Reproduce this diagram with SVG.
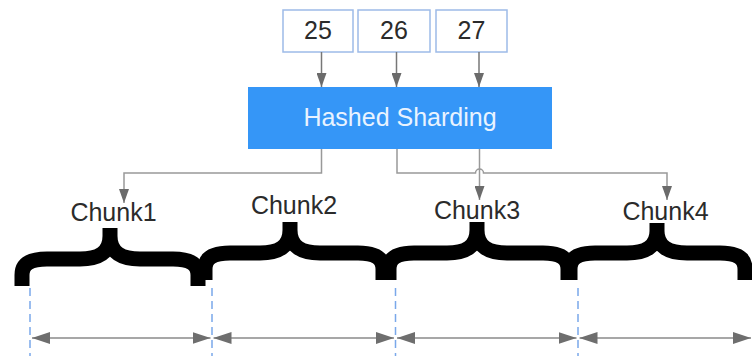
<svg xmlns="http://www.w3.org/2000/svg" width="752" height="356" viewBox="0 0 752 356">
  <defs>
    <marker id="arrow" markerUnits="userSpaceOnUse" markerWidth="14" markerHeight="10" refX="14" refY="5" orient="auto">
      <path d="M0,0 L14,5 L0,10 Z" fill="#6b6b6b"/>
    </marker>
    <marker id="span-end" markerUnits="userSpaceOnUse" markerWidth="18" markerHeight="12" refX="18" refY="6" orient="auto">
      <path d="M0,0 L18,6 L0,12 Z" fill="#6e6e6e"/>
    </marker>
    <marker id="span-start" markerUnits="userSpaceOnUse" markerWidth="18" markerHeight="12" refX="0" refY="6" orient="auto">
      <path d="M18,0 L0,6 L18,12 Z" fill="#6e6e6e"/>
    </marker>
    <style>
      text { font-family: "Liberation Sans", Arial, sans-serif; font-size: 25px; text-anchor: middle; }
      .key rect { fill: #ffffff; stroke: #9dbbe8; stroke-width: 1.5; }
      .key text { fill: #2b2b2b; }
      .hash rect { fill: #3596f7; }
      .hash text { fill: #e9f3ff; }
      .chunk text { fill: #2b2b2b; }
      .brace { fill: none; stroke: #000000; stroke-width: 15; stroke-linecap: butt; stroke-linejoin: round; }
      .feed { fill: none; stroke: #777777; stroke-width: 1.5; marker-end: url(#arrow); }
      .route { fill: none; stroke: #999999; stroke-width: 1.5; marker-end: url(#arrow); }
      .bound { fill: none; stroke: #7aa8ea; stroke-width: 1.5; stroke-dasharray: 8 5; }
      .span { fill: none; stroke: #8a8a8a; stroke-width: 1.5; marker-start: url(#span-start); marker-end: url(#span-end); }
    </style>
  </defs>

  <!-- shard keys -->
  <g id="key-25" class="key">
    <rect x="283" y="10" width="70" height="42"/>
    <text x="318" y="39">25</text>
  </g>
  <g id="key-26" class="key">
    <rect x="358" y="10" width="72" height="42"/>
    <text x="394" y="39">26</text>
  </g>
  <g id="key-27" class="key">
    <rect x="436" y="10" width="71" height="42"/>
    <text x="471.5" y="39">27</text>
  </g>

  <!-- hash function -->
  <g id="hashed-sharding" class="hash">
    <rect x="248" y="87" width="304" height="62"/>
    <text x="400" y="126">Hashed Sharding</text>
  </g>

  <!-- chunks: label plus brace -->
  <g id="chunk1" class="chunk">
    <text x="113.5" y="221">Chunk1</text>
    <path class="brace" d="M110,228 V236 C110,253 98,259 80,259 H47 C30,259 22,264 22,275 V286 M110,228 V236 C110,253 122,259 140,259 H173 C190,259 198,264 198,275 V286"/>
  </g>
  <g id="chunk2" class="chunk">
    <text x="294" y="214">Chunk2</text>
    <path class="brace" d="M290,222 V230 C290,247 278,253 260,253 H230 C213,253 205,258 205,269 V280 M290,222 V230 C290,247 302,253 320,253 H358 C375,253 383,258 383,269 V280"/>
  </g>
  <g id="chunk3" class="chunk">
    <text x="477" y="219">Chunk3</text>
    <path class="brace" d="M477,222 V230 C477,247 465,253 447,253 H414 C397,253 389,258 389,269 V280 M477,222 V230 C477,247 489,253 507,253 H543 C560,253 568,258 568,269 V280"/>
  </g>
  <g id="chunk4" class="chunk">
    <text x="665.5" y="220">Chunk4</text>
    <path class="brace" d="M657,223 V231 C657,247 645,253 627,253 H595 C578,253 570,258 570,269 V280 M657,223 V231 C657,247 669,253 687,253 H720 C737,253 745,258 745,269 V280"/>
  </g>

  <!-- connectors -->
  <g id="connectors">
    <path class="feed" d="M321.5,52 V87"/>
    <path class="feed" d="M396.5,52 V87"/>
    <path class="feed" d="M479,52 V87"/>

    <path class="route" d="M321.5,149 V173 H124 V203"/>
    <path class="route" d="M397,149 V173 H475.5 A4,4 0 0 1 483.5,173 H667 V200"/>
    <path class="route" d="M479.5,149 V200"/>
  </g>

  <!-- chunk boundaries and ranges -->
  <g id="ranges">
    <path class="bound" d="M30,288 V356"/>
    <path class="bound" d="M212,288 V356"/>
    <path class="bound" d="M395.5,288 V356"/>
    <path class="bound" d="M578,288 V356"/>

    <path class="span" d="M32,338 H210.5"/>
    <path class="span" d="M213.5,338 H394"/>
    <path class="span" d="M397,338 H576.5"/>
    <path class="span" d="M579.5,338 H751"/>
  </g>
</svg>
